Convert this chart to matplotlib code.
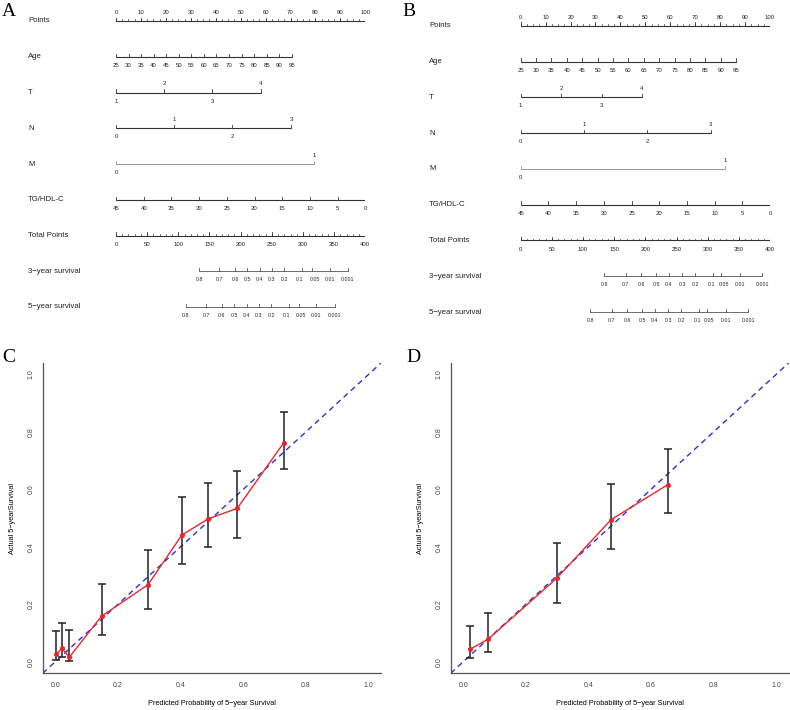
import numpy as np
import matplotlib
matplotlib.use('Agg')
import matplotlib.pyplot as plt
from matplotlib.transforms import blended_transform_factory

plt.rcParams['font.family'] = ['Liberation Sans', 'DejaVu Sans']

# ---------------- nomogram data (points positions) ----------------
row_names = ['Points', 'Age', 'T', 'N', 'M', 'TG/HDL-C', 'Total Points',
             '3\u2212year survival', '5\u2212year survival']

points_ticks = [0, 10, 20, 30, 40, 50, 60, 70, 80, 90, 100]
age_ticks = [25, 30, 35, 40, 45, 50, 55, 60, 65, 70, 75, 80, 85, 90, 95]
tg_ticks = [45, 40, 35, 30, 25, 20, 15, 10, 5, 0]
total_ticks = [0, 50, 100, 150, 200, 250, 300, 350, 400]
surv_labels = ['0.8', '0.7', '0.6', '0.5', '0.4', '0.3', '0.2', '0.1', '0.05', '0.01', '0.001']

T_levels = ['1', '2', '3', '4']
N_levels = ['0', '1', '2', '3']
M_levels = ['0', '1']

# panel A
A_age_max = 70.5          # points for age 95
A_T_pts = [0, 19.3, 38.6, 58.0]
A_N_pts = [0, 23.4, 46.7, 70.2]
A_M_pts = [0, 79.6]
A_surv3 = [133.3, 165.9, 191.1, 210.9, 230.8, 250.1, 269.9, 298.3, 314.4, 342.7, 372.2]
A_surv5 = [112.0, 144.6, 169.8, 189.6, 209.5, 228.8, 248.6, 277.0, 293.1, 321.4, 350.8]

# panel B
B_age_max = 86.4
B_T_pts = [0, 16.3, 32.5, 48.5]
B_N_pts = [0, 25.5, 50.8, 76.2]
B_M_pts = [0, 82.0]
B_surv3 = [133.7, 168.5, 193.1, 217.6, 237.5, 258.9, 279.7, 309.1, 321.0, 352.0, 387.8]
B_surv5 = [111.2, 146.0, 170.6, 195.1, 215.0, 236.4, 257.2, 286.6, 298.5, 329.5, 365.3]

# ---------------- calibration data ----------------
C_pred = [0.004, 0.021, 0.045, 0.148, 0.296, 0.404, 0.489, 0.581, 0.730]
C_obs = [0.027, 0.047, 0.016, 0.159, 0.268, 0.441, 0.498, 0.534, 0.763]
C_lo = [0.008, 0.015, 0.003, 0.093, 0.183, 0.339, 0.400, 0.432, 0.671]
C_hi = [0.106, 0.136, 0.111, 0.272, 0.389, 0.573, 0.624, 0.664, 0.871]

D_pred = [0.021, 0.080, 0.299, 0.473, 0.653]
D_obs = [0.043, 0.079, 0.291, 0.495, 0.616]
D_lo = [0.014, 0.035, 0.203, 0.394, 0.517]
D_hi = [0.124, 0.171, 0.415, 0.618, 0.739]

W, H = 790, 710
fig = plt.figure(figsize=(W / 100, H / 100), dpi=100)

line_col = '#333333'
tick_fs = 4.3
lab_fs = 5.6
tk = 0.09   # tick length in row units
off = 0.24  # label offset in row units
# small horizontal nudges (points units) so "0.1" and "0.05" don't collide
surv_nudge = [0, 0, 0, 0, 0, 0, 0, -0.9, 1.1, 0, 0]


def axis_row(ax, row, pos, labels, minor=None, above=None, color=line_col, lw=0.8,
             fs=tick_fs, nudge=None):
    ax.plot([min(pos), max(pos)], [row, row], color=color, lw=lw, solid_capstyle='butt')
    for i, (p, l) in enumerate(zip(pos, labels)):
        ax.plot([p, p], [row, row - tk], color=color, lw=0.6)
        up = above[i] if above is not None else False
        dx = nudge[i] if nudge is not None else 0
        ax.text(p + dx, row - off if up else row + off, l, ha='center', va='center',
                fontsize=fs, color='#222222')
    if minor is not None:
        for p in minor:
            ax.plot([p, p], [row, row - tk * 0.6], color=color, lw=0.5)


def nomogram(left_px, label_px, top_row_px, step_px, age_max, t_pts, n_pts, m_pts, s3, s5, letter, letter_xy):
    x0 = left_px / W
    w = 249.3 / W
    top = top_row_px - 0.5 * step_px
    bot = top_row_px + 8.5 * step_px
    ax = fig.add_axes([x0, 1 - bot / H, w, (bot - top) / H])
    ax.set_xlim(0, 100)
    ax.set_ylim(8.5, -0.5)
    ax.axis('off')
    tr = blended_transform_factory(fig.transFigure, ax.transData)
    for r, name in enumerate(row_names):
        ax.text(label_px / W, r, name, transform=tr, ha='left', va='center',
                fontsize=lab_fs, color='#222222')

    # Points
    axis_row(ax, 0, points_ticks, [str(v) for v in points_ticks],
             minor=np.arange(0, 100.1, 2.5), above=[True] * len(points_ticks))
    # Age
    age_pos = [(a - 25) / 70 * age_max for a in age_ticks]
    axis_row(ax, 1, age_pos, [str(a) for a in age_ticks])
    # T, N, M  (alternating label sides)
    axis_row(ax, 2, t_pts, T_levels, above=[False, True, False, True])
    axis_row(ax, 3, n_pts, N_levels, above=[False, True, False, True])
    axis_row(ax, 4, m_pts, M_levels, above=[False, True], color='#999999', lw=0.7)
    # TG/HDL-C
    tg_pos = [(45 - v) / 45 * 100 for v in tg_ticks]
    axis_row(ax, 5, tg_pos, [str(v) for v in tg_ticks])
    # Total points
    axis_row(ax, 6, [v / 4 for v in total_ticks], [str(v) for v in total_ticks],
             minor=np.arange(0, 100.1, 2.5))
    # survival
    axis_row(ax, 7, [v / 4 for v in s3], surv_labels, color='#555555', lw=0.6, fs=3.8,
             nudge=surv_nudge)
    axis_row(ax, 8, [v / 4 for v in s5], surv_labels, color='#555555', lw=0.6, fs=3.8,
             nudge=surv_nudge)

    fig.text(letter_xy[0] / W, 1 - letter_xy[1] / H, letter, family='Liberation Serif',
             fontsize=14, ha='left', va='center')


nomogram(116, 28, 21, 35.75, A_age_max, A_T_pts, A_N_pts, A_M_pts, A_surv3, A_surv5, 'A', (2, 12))
nomogram(520.7, 429, 25.7, 35.8, B_age_max, B_T_pts, B_N_pts, B_M_pts, B_surv3, B_surv5, 'B', (402, 11))


def calib(left_px, right_px, pred, obs, lo, hi, letter, letter_xy):
    top, bot = 363, 673.3
    ax = fig.add_axes([left_px / W, 1 - bot / H, (right_px - left_px) / W, (bot - top) / H])
    ax.set_xlim(-0.04, 1.04)
    ax.set_ylim(-0.04, 1.04)
    pred = np.array(pred)
    obs = np.array(obs)
    ax.plot([-0.04, 1.04], [-0.04, 1.04], color='#2f2fd0', lw=1.0, dashes=(4, 3), zorder=2)
    ax.errorbar(pred, obs, yerr=[obs - np.array(lo), np.array(hi) - obs], fmt='none',
                ecolor='#222222', elinewidth=1.1, capsize=3, capthick=1.1, zorder=3)
    ax.plot(pred, obs, color='#e8262b', lw=1.0, marker='o', ms=2.6, zorder=4)
    for s in ['top', 'right']:
        ax.spines[s].set_visible(False)
    for s in ['left', 'bottom']:
        ax.spines[s].set_color('#555555')
        ax.spines[s].set_linewidth(0.9)
    ticks = [0.0, 0.2, 0.4, 0.6, 0.8, 1.0]
    ax.set_xticks(ticks)
    ax.set_yticks(ticks)
    ax.set_xticklabels(['%.1f' % t for t in ticks], fontsize=5)
    ax.set_yticklabels(['%.1f' % t for t in ticks], fontsize=5, rotation=90, va='center')
    ax.tick_params(length=0, pad=6, colors='#444444')
    ax.set_xlabel('Predicted Probability of 5\u2212year Survival', fontsize=5.3, labelpad=8)
    ax.set_ylabel('Actual 5\u2212yearSurvival', fontsize=5.3, labelpad=8)
    fig.text(letter_xy[0] / W, 1 - letter_xy[1] / H, letter, family='Liberation Serif',
             fontsize=14, ha='left', va='center')


calib(42.7, 381, C_pred, C_obs, C_lo, C_hi, 'C', (2, 358))
calib(450.7, 788.6, D_pred, D_obs, D_lo, D_hi, 'D', (406, 358))

fig.savefig('out.png', dpi=100)
